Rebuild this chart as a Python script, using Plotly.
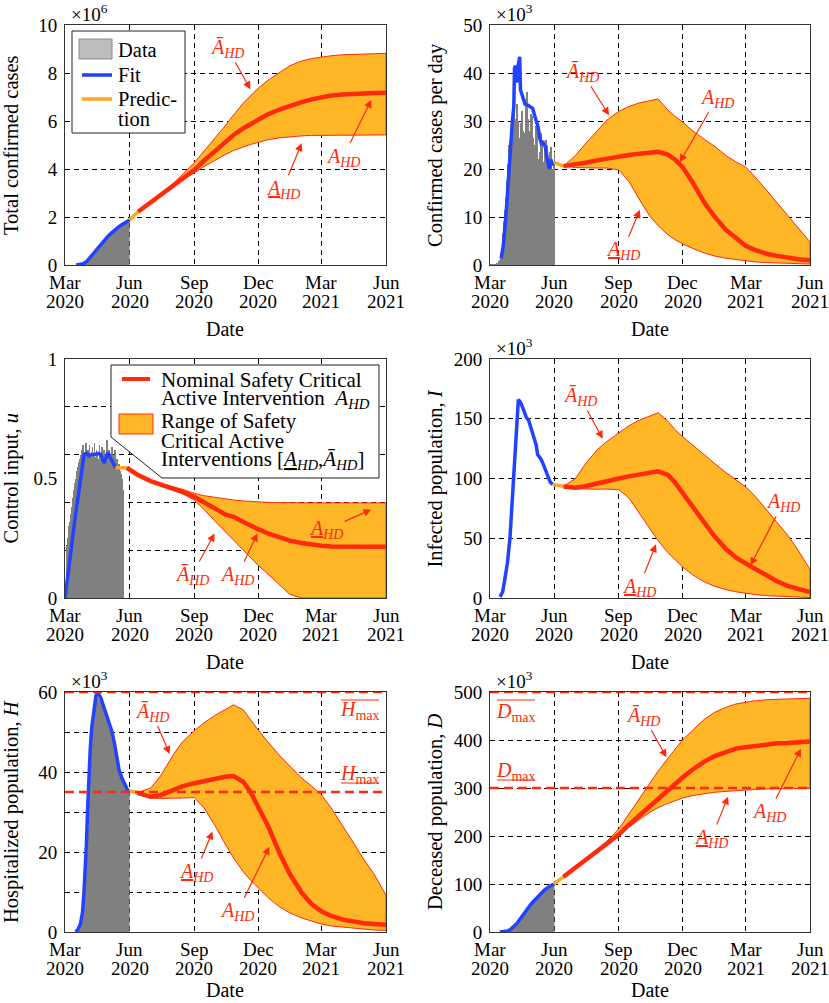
import pandas as pd
import plotly.graph_objects as go

W, H = 829, 1003
FONT = "Liberation Serif"
BASE_DATE = "2020-03-01"
X_RANGE = ["2020-03-01", "2021-06-01"]
TICK_DATES = ["2020-03-01", "2020-06-01", "2020-09-01", "2020-12-01", "2021-03-01", "2021-06-01"]
TICK_MONTHS = ["Mar", "Jun", "Sep", "Dec", "Mar", "Jun"]
TICK_YEARS = ["2020", "2020", "2020", "2020", "2021", "2021"]

G_DATES = ["2020-07-01", "2020-07-15", "2020-08-01", "2020-08-15", "2020-09-01", "2020-09-15",
           "2020-10-01", "2020-10-15", "2020-10-27", "2020-11-10", "2020-11-20", "2020-12-01",
           "2020-12-15", "2021-01-01", "2021-01-15", "2021-02-01", "2021-02-15", "2021-03-01",
           "2021-03-15", "2021-04-01", "2021-04-15", "2021-05-01", "2021-05-15", "2021-06-01"]

FIT1_DAY = [16, 22, 26, 31, 36, 41, 46, 51, 56, 61, 66, 71, 76, 81, 86, 92]
FIT1_VAL = [0.0, 0.01, 0.05, 0.15, 0.33, 0.52, 0.7, 0.88, 1.04, 1.19, 1.33, 1.47, 1.58, 1.68, 1.78, 1.88]
DATA1_DAY = [20, 26, 31, 36, 41, 46, 51, 56, 61, 66, 71, 76, 81, 86, 92]
DATA1_VAL = [0.01, 0.05, 0.15, 0.33, 0.52, 0.7, 0.88, 1.04, 1.19, 1.33, 1.47, 1.58, 1.68, 1.78, 1.88]
PRED1_DAY = [92, 104]
PRED1_VAL = [1.88, 2.22]
START1 = ["2020-06-13"]
MED1 = [2.22, 2.61, 2.92, 3.3, 3.6, 3.96, 4.35, 4.76, 5.14, 5.42, 5.7, 5.88, 6.07, 6.28, 6.49, 6.64,
        6.79, 6.9, 6.99, 7.06, 7.1, 7.13, 7.15, 7.17, 7.18]
UP1 = [2.22, 2.63, 2.96, 3.37, 3.76, 4.26, 4.75, 5.3, 5.8, 6.25, 6.75, 7.05, 7.36, 7.7, 8.05, 8.3,
       8.5, 8.6, 8.66, 8.72, 8.76, 8.78, 8.8, 8.81, 8.82]
LO1 = [2.22, 2.6, 2.9, 3.27, 3.55, 3.84, 4.1, 4.38, 4.6, 4.77, 4.92, 5.02, 5.12, 5.22, 5.3, 5.35,
       5.38, 5.4, 5.41, 5.42, 5.42, 5.42, 5.42, 5.42, 5.42]

BARS2_START = "2020-03-01"
BARS2_VAL = [0, 0.01, 0.02, 0.03, 0.04, 0.05, 0.07,
             0.1, 0.15, 0.2, 0.3, 0.4, 0.55, 0.8,
             1.0, 1.6, 2.5, 3.5, 4.8, 6.5, 9.0,
             11.5, 9.5, 14.0, 17.5, 19.0, 21.0, 25.0,
             22.0, 24.0, 26.0, 30.5, 28.5, 31.0, 33.5,
             29.0, 27.0, 30.5, 32.5, 33.5, 30.0, 26.5,
             25.0, 26.5, 29.5, 31.5, 32.0, 28.0, 25.5,
             26.0, 27.5, 34.5, 31.5, 36.0, 30.5, 27.0,
             25.0, 28.0, 29.5, 31.5, 31.0, 26.5, 24.0,
             23.0, 25.0, 27.5, 29.0, 27.5, 24.5, 22.0,
             21.0, 23.5, 26.5, 27.5, 26.0, 23.0, 21.5,
             20.5, 22.0, 24.5, 26.0, 25.0, 22.0, 20.0,
             19.5, 21.5, 23.5, 24.5, 22.5, 20.0, 19.0,
             21.5, 23.5]
FIT2_DAY = [16, 19, 23, 26, 29.5, 32, 34, 35, 36.5, 38, 39.5, 41, 42.4, 43.5, 47, 50, 54, 58, 61, 65,
            68.6, 71, 73.3, 76, 79, 82.9, 85, 87, 89, 91.4]
FIT2_VAL = [1.4, 4, 10.8, 18, 26, 30, 33, 41, 41.5, 38, 41, 42.5, 43.4, 36.5, 35, 33.5, 33.3, 32.8, 32.6,
            30.5, 28.8, 26.5, 25.3, 25.5, 24.6, 21.2, 20, 22, 20.8, 21.4]
PRED2_DAY = [91.4, 105]
PRED2_VAL = [21.4, 20.6]
START2 = ["2020-06-14"]
MED2 = [20.6, 20.9, 21.3, 21.8, 22.2, 22.6, 22.9, 23.2, 23.4, 23.6, 23.0, 22.0, 20.4, 17.3, 13.0, 10.2,
        7.3, 5.5, 4.0, 3.1, 2.3, 1.9, 1.5, 1.2, 1.0]
UP2 = [20.6, 22.8, 25.2, 28.0, 30.2, 32.0, 33.0, 33.8, 34.3, 34.6, 32.3, 31.0, 29.8, 28.0, 26.2, 24.8,
       22.8, 21.5, 20.4, 18.3, 15.4, 13.0, 10.2, 7.8, 4.8]
LO2 = [20.6, 20.3, 20.2, 20.2, 20.2, 19.8, 17.5, 13.5, 10.2, 8.2, 6.3, 5.3, 4.4, 3.5, 2.5, 1.9,
       1.4, 1.05, 0.85, 0.65, 0.5, 0.4, 0.3, 0.25, 0.2]

BARS3_START = "2020-03-04"
BARS3_VAL = [0.22, 0.25, 0.3, 0.28, 0.32, 0.3,
             0.35, 0.38, 0.42, 0.4, 0.45, 0.48,
             0.5, 0.47, 0.53, 0.55, 0.52, 0.57,
             0.58, 0.6, 0.56, 0.62, 0.6, 0.64,
             0.61, 0.58, 0.63, 0.65, 0.6, 0.57,
             0.62, 0.59, 0.64, 0.6, 0.56, 0.61,
             0.63, 0.58, 0.6, 0.65, 0.57, 0.59,
             0.62, 0.6, 0.55, 0.58, 0.64, 0.6,
             0.57, 0.61, 0.63, 0.56, 0.59, 0.62,
             0.55, 0.58, 0.6, 0.66, 0.57, 0.6,
             0.62, 0.58, 0.54, 0.6, 0.63, 0.57,
             0.55, 0.6, 0.62, 0.56, 0.53, 0.58,
             0.55, 0.52, 0.56, 0.53, 0.5, 0.52,
             0.48, 0.5, 0.45]
FIT3_DAY = [0, 5, 10, 15, 20, 24, 27, 31, 34, 38, 42, 47, 51, 56, 61, 64, 68, 72]
FIT3_VAL = [0.0, 0.12, 0.24, 0.35, 0.45, 0.54, 0.6, 0.605, 0.595, 0.6, 0.6, 0.605, 0.6, 0.565, 0.61,
            0.59, 0.565, 0.545]
PRED3_DAY = [72, 88]
PRED3_VAL = [0.545, 0.545]
START3 = ["2020-05-28", "2020-06-13"]
MED3 = [0.545, 0.514, 0.489, 0.476, 0.461, 0.444, 0.423, 0.402, 0.374, 0.35, 0.34, 0.318, 0.302,
        0.288, 0.27, 0.253, 0.24, 0.23, 0.223, 0.219, 0.216, 0.215, 0.214, 0.214, 0.214, 0.214]
UP3 = [0.545, 0.514, 0.49, 0.478, 0.466, 0.455, 0.438, 0.428, 0.42, 0.414, 0.41, 0.406, 0.404,
       0.402, 0.4, 0.399, 0.398, 0.398, 0.398, 0.398, 0.398, 0.398, 0.398, 0.398, 0.398, 0.398]
LO3 = [0.545, 0.514, 0.489, 0.475, 0.458, 0.438, 0.41, 0.37, 0.32, 0.275, 0.24, 0.2, 0.17,
       0.137, 0.1, 0.055, 0.015, 0.0, 0.0, 0.0, 0.0, 0.0, 0.0, 0.0, 0.0, 0.0]

FIT4_DAY = [14.3, 18, 21, 25, 28.6, 32, 35.7, 39, 40.5, 43, 45, 50, 52, 55, 60, 66, 68, 70.5, 73, 76,
            81, 86, 89.5]
FIT4_VAL = [1, 5, 15, 30, 51, 85, 126, 160, 166, 164, 162, 154, 151, 149, 140, 128, 120, 118, 116,
            112, 104, 97, 95]
PRED4_DAY = [89.5, 105]
PRED4_VAL = [95, 93.4]
START4 = ["2020-06-14"]
MED4 = [93.4, 92.3, 93.5, 95.5, 97.5, 100, 101.8, 103.5, 105, 106, 103, 97, 88, 77, 63, 52, 41, 34,
        29, 24, 18, 14, 10, 7.5, 5]
UP4 = [93.4, 100, 112, 124, 131, 138, 144, 149, 152, 155, 148, 141, 135, 128, 120, 113, 105, 99, 93,
       85, 73, 64, 52, 40, 24]
LO4 = [93.4, 91.5, 91, 91, 91.2, 90.5, 84, 70, 58, 48, 38, 32, 26, 19.5, 13.5, 10, 7, 5.2, 3.8, 2.8,
       1.9, 1.4, 1.0, 0.7, 0.4]

FIT5_DAY = [15, 18, 22, 25, 27, 29, 30.5, 32, 34, 36, 38, 41, 44, 46, 48, 51, 55, 59, 63, 67, 70, 73,
            77, 81, 85, 89, 91]
FIT5_VAL = [0, 0.5, 2, 5, 10, 16, 22, 30, 40, 46, 51, 56, 59, 59.8, 59.5, 58.5, 56.5, 54, 52, 50,
            47.5, 44.5, 40.5, 38.5, 37, 35.5, 35.3]
DATA5_DAY = [17, 22, 25, 27, 29, 30.5, 32, 34, 36, 38, 41, 44, 46, 48, 51, 55, 59, 63, 67, 70, 73, 77,
             81, 85, 89, 92]
DATA5_VAL = [0.3, 2, 5, 10, 16, 22, 30, 40, 46, 51, 56, 58.5, 59, 58.5, 57.5, 55.5, 53, 51, 49,
             46.5, 43.5, 40, 38, 36.5, 35.3, 35]
PRED5_DAY = [91, 103]
PRED5_VAL = [35.3, 34.8]
START5 = ["2020-06-12"]
MED5 = [34.8, 33.8, 34.2, 35.5, 36.4, 37.2, 37.8, 38.4, 38.8, 39.0, 37.5, 35.0, 31.5, 26.5, 19.5,
        14.5, 9.8, 7.0, 5.2, 4.0, 3.1, 2.6, 2.2, 2.0, 1.8]
UP5 = [34.8, 36, 39, 44, 47.5, 50.3, 52.3, 54.2, 55.6, 56.8, 55.5, 53, 50.5, 47.5, 44, 41.5, 38.5,
       36.5, 34.3, 31, 26.5, 22.5, 18, 14.5, 9.2]
LO5 = [34.8, 33.5, 33.4, 33.4, 33.5, 33.6, 31, 26.5, 22, 18.5, 15, 13, 11, 8.6, 6.2, 4.8, 3.5, 2.7,
       2.0, 1.5, 1.1, 0.9, 0.7, 0.5, 0.4]
H_MAX_LOW = 35
H_MAX_HIGH = 60

FIT6_DAY = [14, 20, 25, 29, 33, 38, 43, 48, 53, 58, 63, 68, 73, 78, 84, 91]
FIT6_VAL = [0, 0.5, 2, 5, 10, 17, 27, 38, 48, 57, 65, 73, 81, 88, 94, 100]
DATA6_DAY = [16, 20, 25, 29, 33, 38, 43, 48, 53, 58, 63, 68, 73, 78, 84, 92]
DATA6_VAL = [0.2, 0.5, 2, 5, 10, 17, 27, 38, 48, 57, 65, 73, 81, 88, 94, 100]
PRED6_DAY = [91, 105]
PRED6_VAL = [100, 115]
START6 = ["2020-06-14"]
MED6 = [115, 134, 150, 168.5, 184.5, 203, 223, 244, 263, 279, 297, 310, 322, 338, 355, 366, 376, 382,
        385, 388, 391, 393, 394, 396, 397]
UP6 = [115, 135, 151, 171, 189, 215, 245, 280, 310, 335, 362, 380, 400, 420, 443, 457, 468, 475, 479,
       482, 484, 485, 486, 487, 487]
LO6 = [115, 134, 149, 167, 183, 200, 218, 235, 249, 259, 268, 274, 279, 284, 288, 291, 293, 295, 296,
       297, 298, 298.5, 299, 299.5, 299.5]
D_MAX_LOW = 300
D_MAX_HIGH = 500

Y_TITLES = ["Total confirmed cases", "Confirmed cases per day", "Control input, <i>u</i>",
            "Infected population, <i>I</i>", "Hospitalized population, <i>H</i>",
            "Deceased population, <i>D</i>"]
EXPONENTS = ["6", "3", None, "3", "3", "3"]

BLUE = "#2142ff"
ORANGE = "#ffa51f"
BAND = "#ffb627"
RED = "#ff2a0a"
GRAY = "#808080"
DASH = "5px,4px"


def px(x):
    return x / W


def py(y):
    return 1 - y / H


XDOM = {0: [px(65), px(386)], 1: [px(490), px(810)]}
ROWPIX = {1: (25, 265), 2: (359, 598), 3: (692, 932)}
DATE_GAP = {1: 64, 2: 64, 3: 58}


def aid(i):
    return "" if i == 1 else str(i)


def to_dates(days):
    base = pd.Timestamp(BASE_DATE)
    return [base + pd.Timedelta(days=float(d)) for d in days]


fig = go.Figure()


def tr(i, **kw):
    fig.add_trace(go.Scatter(xaxis="x" + aid(i), yaxis="y" + aid(i), hoverinfo="skip",
                             showlegend=False, **kw))


def add_area(i, days, vals):
    tr(i, x=to_dates(days), y=vals, mode="lines", line=dict(width=0, color=GRAY),
       fill="tozeroy", fillcolor=GRAY)


def add_bars(i, start, vals):
    fig.add_trace(go.Bar(x=pd.date_range(start, periods=len(vals), freq="D"), y=vals,
                         width=86400000 * 1.0, marker=dict(color=GRAY, line=dict(width=0)),
                         xaxis="x" + aid(i), yaxis="y" + aid(i), hoverinfo="skip",
                         showlegend=False))


def add_fit(i, days, vals):
    tr(i, x=to_dates(days), y=vals, mode="lines", line=dict(color=BLUE, width=3.5))


def add_pred(i, days, vals):
    tr(i, x=to_dates(days), y=vals, mode="lines", line=dict(color=ORANGE, width=3.5))


def add_band(i, dates, med, up, lo):
    d = pd.to_datetime(dates)
    xs = list(d) + list(d[::-1])
    tr(i, x=xs, y=list(up) + list(lo[::-1]), mode="lines", line=dict(color=RED, width=1),
       fill="toself", fillcolor=BAND)
    tr(i, x=list(d), y=med, mode="lines", line=dict(color=RED, width=4.5))


add_area(1, DATA1_DAY, DATA1_VAL)
add_fit(1, FIT1_DAY, FIT1_VAL)
add_pred(1, PRED1_DAY, PRED1_VAL)
add_band(1, START1 + G_DATES, MED1, UP1, LO1)
add_bars(2, BARS2_START, BARS2_VAL)
add_fit(2, FIT2_DAY, FIT2_VAL)
add_pred(2, PRED2_DAY, PRED2_VAL)
add_band(2, START2 + G_DATES, MED2, UP2, LO2)
add_bars(3, BARS3_START, BARS3_VAL)
add_fit(3, FIT3_DAY, FIT3_VAL)
add_pred(3, PRED3_DAY, PRED3_VAL)
add_band(3, START3 + G_DATES, MED3, UP3, LO3)
add_fit(4, FIT4_DAY, FIT4_VAL)
add_pred(4, PRED4_DAY, PRED4_VAL)
add_band(4, START4 + G_DATES, MED4, UP4, LO4)
add_area(5, DATA5_DAY, DATA5_VAL)
add_fit(5, FIT5_DAY, FIT5_VAL)
add_pred(5, PRED5_DAY, PRED5_VAL)
add_band(5, START5 + G_DATES, MED5, UP5, LO5)
add_area(6, DATA6_DAY, DATA6_VAL)
add_fit(6, FIT6_DAY, FIT6_VAL)
add_pred(6, PRED6_DAY, PRED6_VAL)
add_band(6, START6 + G_DATES, MED6, UP6, LO6)

Y_CFG = {
    1: dict(range=[0, 10], tickvals=[0, 2, 4, 6, 8, 10]),
    2: dict(range=[0, 50], tickvals=[0, 10, 20, 30, 40, 50]),
    3: dict(range=[0, 1], tickvals=[0, 0.5, 1], ticktext=["0", "0.5", "1"], showgrid=False,
            minor=dict(tickvals=[0.2, 0.4, 0.6, 0.8], showgrid=True, gridcolor="black",
                       griddash=DASH, gridwidth=1, ticks="")),
    4: dict(range=[0, 200], tickvals=[0, 50, 100, 150, 200]),
    5: dict(range=[0, 60], tickvals=[0, 10, 20, 30, 40, 50, 60],
            ticktext=["0", "", "20", "", "40", "", "60"]),
    6: dict(range=[0, 500], tickvals=[0, 100, 200, 300, 400, 500]),
}

layout = dict(width=W, height=H, margin=dict(l=0, r=0, t=0, b=0, pad=0, autoexpand=False),
              showlegend=False, autosize=False,
              plot_bgcolor="white", paper_bgcolor="white", bargap=0,
              font=dict(family=FONT, size=19, color="black"))
annotations = []
shapes = []

for i in range(1, 7):
    col = (i - 1) % 2
    row = (i + 1) // 2
    top, bot = ROWPIX[row]
    xd = XDOM[col]
    layout["xaxis" + aid(i)] = dict(
        domain=xd, anchor="y" + aid(i), type="date", range=X_RANGE, tickvals=TICK_DATES,
        showticklabels=False, showgrid=True, gridcolor="black", griddash=DASH, gridwidth=1,
        showline=True, mirror=True, linecolor="#333333", linewidth=1, ticks="",
        zeroline=False, fixedrange=True, automargin=False)
    ycfg = dict(domain=[py(bot), py(top)], anchor="x" + aid(i), showgrid=True,
                gridcolor="black", griddash=DASH, gridwidth=1, showline=True, mirror=True,
                linecolor="#333333", linewidth=1, ticks="", zeroline=False, fixedrange=True,
                tickfont=dict(size=19), ticklabelstandoff=3, automargin=False)
    ycfg.update(Y_CFG[i])
    layout["yaxis" + aid(i)] = ycfg

    for d, m, yv in zip(TICK_DATES, TICK_MONTHS, TICK_YEARS):
        annotations.append(dict(xref="x" + aid(i), yref="paper", x=d, y=py(bot + 17), text=m,
                                showarrow=False, font=dict(size=19), xanchor="center",
                                yanchor="middle"))
        annotations.append(dict(xref="x" + aid(i), yref="paper", x=d, y=py(bot + 36), text=yv,
                                showarrow=False, font=dict(size=19), xanchor="center",
                                yanchor="middle"))
    annotations.append(dict(xref="paper", yref="paper", x=(xd[0] + xd[1]) / 2,
                            y=py(bot + DATE_GAP[row]), text="Date", showarrow=False,
                            font=dict(size=20), xanchor="center", yanchor="middle"))
    annotations.append(dict(xref="paper", yref="paper", x=px(11 if col == 0 else 435),
                            y=py((top + bot) / 2), text=Y_TITLES[i - 1], textangle=-90,
                            showarrow=False, font=dict(size=20.5), xanchor="center",
                            yanchor="middle"))
    if EXPONENTS[i - 1]:
        annotations.append(dict(xref="paper", yref="paper",
                                x=px(69 if col == 0 else 494), y=py(top - 12),
                                text="×10<sup>%s</sup>" % EXPONENTS[i - 1], showarrow=False,
                                font=dict(size=19), xanchor="left", yanchor="middle"))

A_OVER = "<i>Ā</i><sub><i>HD</i></sub>"
A_UNDER = '<span style="text-decoration:underline"><i>A</i></span><sub><i>HD</i></sub>'
A_NOM = "<i>A</i><sub><i>HD</i></sub>"

ARROWS = [
    (1, "2020-11-20", 7.32, -23, -41, A_OVER),
    (1, "2021-02-01", 5.07, -19, 46, A_UNDER),
    (1, "2021-05-11", 6.875, -28, 57, A_NOM),
    (2, "2020-08-18", 31.2, -27, -43, A_OVER),
    (2, "2020-11-27", 21.4, 37, -64, A_NOM),
    (2, "2020-10-01", 11.5, -17, 41, A_UNDER),
    (3, "2020-09-30", 0.27, -23, 42, A_OVER),
    (3, "2020-11-30", 0.27, -20, 42, A_NOM),
    (3, "2021-05-11", 0.37, -45, 20, A_UNDER),
    (4, "2020-08-09", 133.3, -23, -42, A_OVER),
    (4, "2021-03-08", 27.3, 33, -63, A_NOM),
    (4, "2020-10-24", 44.9, -17, 43, A_UNDER),
    (5, "2020-07-28", 44.5, -18, -42, A_OVER),
    (5, "2020-09-27", 25.1, -17, 41, A_UNDER),
    (5, "2020-12-17", 21.3, -32, 65, A_NOM),
    (6, "2020-11-08", 364, -23, -41, A_OVER),
    (6, "2021-02-04", 282, -17, 42, A_UNDER),
    (6, "2021-05-19", 381.6, -32, 64, A_NOM),
]
for i, xd_, yv, dx, dy, txt in ARROWS:
    annotations.append(dict(xref="x" + aid(i), yref="y" + aid(i), x=xd_, y=yv, ax=dx, ay=dy,
                            text=txt, showarrow=True, arrowhead=2, arrowsize=1.3,
                            arrowwidth=1.2, arrowcolor=RED, standoff=0,
                            font=dict(size=20, color=RED)))

# threshold labels (bars over / under drawn as thin lines)
H_LAB = "<i>H</i><sub>max</sub>"
D_LAB = "<i>D</i><sub>max</sub>"
for xx, yy, txt in [(360, 710, H_LAB), (360, 774, H_LAB), (516, 712, D_LAB), (516, 771, D_LAB)]:
    annotations.append(dict(xref="paper", yref="paper", x=px(xx), y=py(yy), text=txt,
                            showarrow=False, font=dict(size=20, color=RED),
                            xanchor="center", yanchor="middle"))
for x0, x1, yy in [(341, 379, 700), (341, 379, 783), (497, 535, 700), (497, 535, 780)]:
    shapes.append(dict(type="line", xref="paper", yref="paper", x0=px(x0), x1=px(x1),
                       y0=py(yy), y1=py(yy), line=dict(color=RED, width=1.2), layer="above"))

for i, val in [(5, H_MAX_LOW), (5, H_MAX_HIGH), (6, D_MAX_LOW), (6, D_MAX_HIGH)]:
    shapes.append(dict(type="line", xref="x%s domain" % aid(i), yref="y" + aid(i), x0=0, x1=1,
                       y0=val, y1=val, line=dict(color=RED, width=2.5, dash="9px,5px"),
                       layer="above"))

# legend of panel 1
shapes.append(dict(type="rect", xref="paper", yref="paper", x0=px(72), x1=px(185), y0=py(133),
                   y1=py(31), fillcolor="white", line=dict(color="#222222", width=1),
                   layer="above"))
shapes.append(dict(type="rect", xref="paper", yref="paper", x0=px(79), x1=px(112), y0=py(59),
                   y1=py(39), fillcolor="#bdbdbd", line=dict(color="#8a8a8a", width=1),
                   layer="above"))
shapes.append(dict(type="line", xref="paper", yref="paper", x0=px(82), x1=px(112), y0=py(75),
                   y1=py(75), line=dict(color=BLUE, width=3.5), layer="above"))
shapes.append(dict(type="line", xref="paper", yref="paper", x0=px(82), x1=px(112), y0=py(99),
                   y1=py(99), line=dict(color=ORANGE, width=3.5), layer="above"))
for yy, txt in [(50, "Data"), (75, "Fit"), (99, "Predic-"), (119, "tion")]:
    annotations.append(dict(xref="paper", yref="paper", x=px(116), y=py(yy), text=txt,
                            showarrow=False, font=dict(size=20.5), xanchor="left",
                            yanchor="middle"))

# legend (callout) of panel 3
path = "M %f,%f L %f,%f L %f,%f L %f,%f L %f,%f Z" % (
    px(111), py(365), px(379), py(365), px(379), py(478), px(162), py(478), px(111), py(437))
shapes.append(dict(type="path", xref="paper", yref="paper", path=path, fillcolor="white",
                   line=dict(color="#222222", width=1), layer="above"))
shapes.append(dict(type="line", xref="paper", yref="paper", x0=px(122), x1=px(150), y0=py(379),
                   y1=py(379), line=dict(color=RED, width=4), layer="above"))
shapes.append(dict(type="rect", xref="paper", yref="paper", x0=px(119), x1=px(153), y0=py(434),
                   y1=py(414), fillcolor=BAND, line=dict(color=RED, width=1), layer="above"))
LEG3 = [(380, "Nominal Safety Critical"),
        (399, "Active Intervention  <i>A</i><sub><i>HD</i></sub>"),
        (421, "Range of Safety"),
        (441, "Critical Active"),
        (460, 'Interventions [<span style="text-decoration:underline"><i>A</i></span>'
              '<sub><i>HD</i></sub>,<i>Ā</i><sub><i>HD</i></sub>]')]
for yy, txt in LEG3:
    annotations.append(dict(xref="paper", yref="paper", x=px(159), y=py(yy), text=txt,
                            showarrow=False, font=dict(size=21), xanchor="left",
                            yanchor="middle"))

layout["annotations"] = annotations
layout["shapes"] = shapes
fig.update_layout(**layout)
fig.write_html("out.html", config={"displayModeBar": False},
               post_script="document.body.style.margin='0';"
                           "document.documentElement.style.overflow='hidden';")
